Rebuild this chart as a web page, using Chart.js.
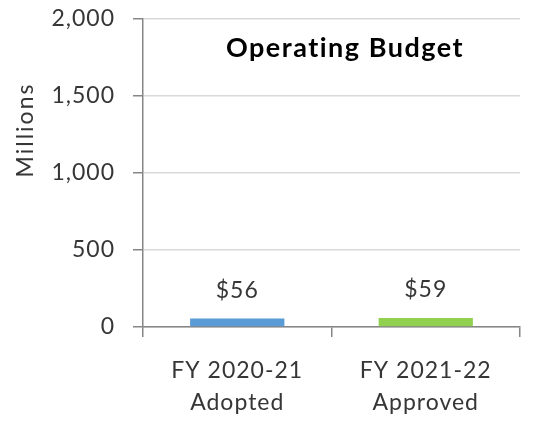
<!DOCTYPE html>
<html>
<head>
<meta charset="utf-8">
<script src="https://cdn.jsdelivr.net/npm/chart.js@4"></script>
<style>
  html, body { margin: 0; padding: 0; background: #fff; }
  #budgetChart { display: block; }
</style>
</head>
<body>
<canvas id="budgetChart" width="548" height="421"></canvas>
<script>
// chart data
const categories = [['FY 2020-21', 'Adopted'], ['FY 2021-22', 'Approved']];
const budgetValues = [56, 59];
const barColors = ['#5b9bd5', '#92d050'];
const valueLabels = ['$56', '$59'];
const chartTitle = 'Operating Budget';
const yTitle = 'Millions';

const fontFamily = 'Lato, "Open Sans", sans-serif';
const textColor = '#363636';

// the reference text is a bit wider than Lato, so space the letters out
const spacing = {
    id: 'spacing',
    beforeUpdate(chart) { chart.ctx.letterSpacing = '1px'; },
    beforeDraw(chart) { chart.ctx.letterSpacing = '1px'; }
};

// draws the value over each bar, the title inside the plot, and the y title
const overlayText = {
    id: 'overlayText',
    afterDatasetsDraw(chart) {
        const ctx = chart.ctx;
        const area = chart.chartArea;
        const meta = chart.getDatasetMeta(0);
        ctx.save();
        ctx.letterSpacing = '1px';
        ctx.font = '23px ' + fontFamily;
        ctx.fillStyle = textColor;
        ctx.textAlign = 'center';
        ctx.textBaseline = 'middle';
        meta.data.forEach((bar, i) => {
            ctx.fillText(valueLabels[i], bar.x, bar.y - 28);
        });

        ctx.letterSpacing = '1.5px';
        ctx.font = 'bold 27px ' + fontFamily;
        ctx.fillStyle = '#000';
        ctx.textBaseline = 'alphabetic';
        ctx.fillText(chartTitle, area.left + 202, area.top + 38);

        ctx.letterSpacing = '2px';
        ctx.font = '23px ' + fontFamily;
        ctx.fillStyle = textColor;
        ctx.translate(33, 130);
        ctx.rotate(-Math.PI / 2);
        ctx.fillText(yTitle, 0, 0);
        ctx.restore();
    }
};

const ctx = document.getElementById('budgetChart').getContext('2d');
new Chart(ctx, {
    type: 'bar',
    data: {
        labels: categories,
        datasets: [{
            data: budgetValues,
            backgroundColor: barColors,
            borderWidth: 0,
            barPercentage: 0.5,
            categoryPercentage: 1
        }]
    },
    options: {
        responsive: false,
        animation: false,
        layout: {
            padding: { top: 19, right: 28, left: 0, bottom: 0 }
        },
        plugins: {
            legend: { display: false },
            tooltip: { enabled: false }
        },
        scales: {
            y: {
                min: 0,
                max: 2000,
                afterFit: (scale) => {
                    scale.width = 143;
                    scale.paddingTop = 0;
                    scale.paddingBottom = 0;
                },
                ticks: {
                    stepSize: 500,
                    padding: 18,
                    color: textColor,
                    font: { family: fontFamily, size: 23 },
                    callback: (v) => v.toLocaleString('en-US')
                },
                grid: {
                    color: '#d9d9d9',
                    lineWidth: 1.5,
                    tickLength: 10,
                    tickColor: '#868686'
                },
                border: { color: '#868686', width: 1.5 }
            },
            x: {
                afterFit: (scale) => { scale.height = 94; },
                ticks: {
                    padding: 17,
                    color: textColor,
                    font: { family: fontFamily, size: 23, lineHeight: 1.4 }
                },
                grid: {
                    offset: true,
                    drawOnChartArea: false,
                    tickLength: 10,
                    tickColor: '#868686',
                    lineWidth: 1.5
                },
                border: { color: '#868686', width: 1.5 }
            }
        }
    },
    plugins: [spacing, overlayText]
});
</script>
</body>
</html>
